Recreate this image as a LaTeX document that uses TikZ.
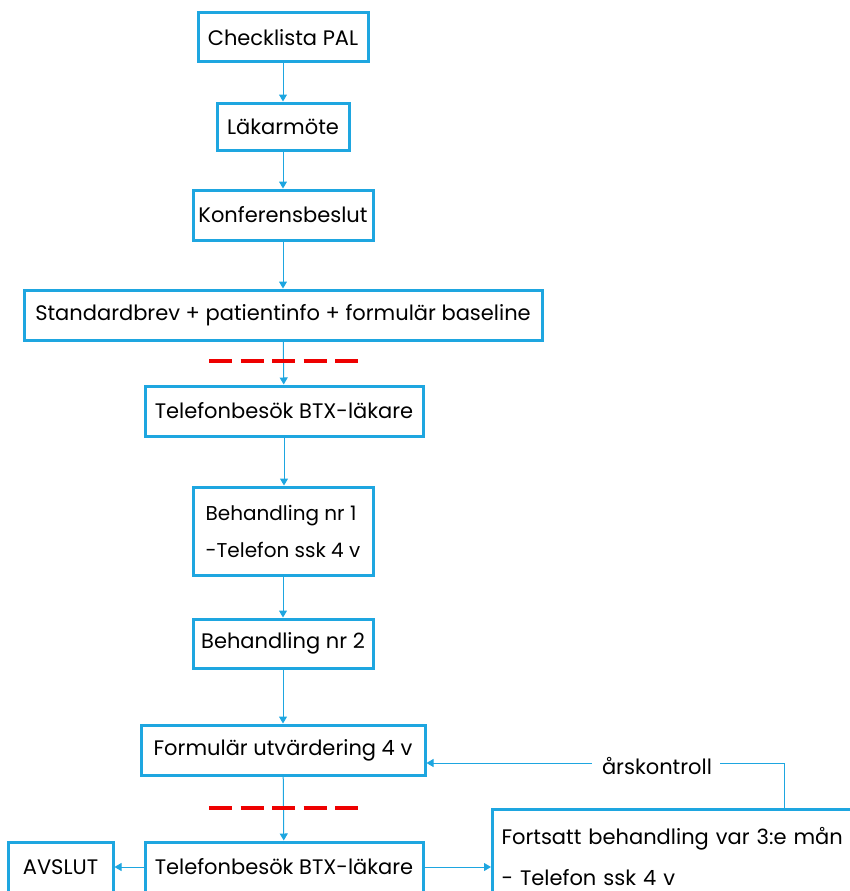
\documentclass[tikz,border=0pt]{standalone}
\usepackage{fontspec}
\setmainfont{Poppins}
\usetikzlibrary{arrows.meta}
\definecolor{bx}{RGB}{30,166,224}
\definecolor{rd}{RGB}{238,0,0}
\tikzset{
  box/.style={draw=bx, line width=3pt, fill=white, inner sep=0pt, font=\fontsize{21}{25}\selectfont, text=black},
  conn/.style={draw=bx, line width=1pt, -{Triangle[length=7pt,width=8pt]}},
  plain/.style={draw=bx, line width=1pt},
  reddash/.style={draw=rd, line width=4pt, dash pattern=on 23pt off 8.5pt},
}
\begin{document}
\begin{tikzpicture}[x=1pt,y=-1pt]
\useasboundingbox (0,0) rectangle (850,891);
\clip (0,0) rectangle (850,891);
\node[box, minimum width=170pt, minimum height=49pt] (a) at (283,37.5) {Checklista PAL};
\node[box, minimum width=132pt, minimum height=47pt] (b) at (283,126.5) {Läkarmöte};
\node[box, minimum width=180pt, minimum height=50pt] (c) at (283,215) {Konferensbeslut};
\node[box, minimum width=518pt, minimum height=50pt] (d) at (283,315) {Standardbrev + patientinfo + formulär baseline};
\node[box, minimum width=278pt, minimum height=50pt] (e) at (284,411) {Telefonbesök BTX-läkare};
\node[box, minimum width=180pt, minimum height=88pt, align=left, font=\fontsize{20}{24}\selectfont] (f) at (283,531) {Behandling nr 1\\[13pt]-Telefon ssk 4 v};
\node[box, minimum width=180pt, minimum height=49pt] (g) at (283,643.5) {Behandling nr 2};
\node[box, minimum width=284pt, minimum height=50pt] (h) at (283,750) {Formulär utvärdering 4 v};
\node[box, minimum width=278pt, minimum height=50pt] (i) at (284,867) {Telefonbesök BTX-läkare};
\node[box, minimum width=105pt, minimum height=50pt] (j) at (60.5,867) {AVSLUT};
\node[box, anchor=north west, align=left, text width=380pt, inner xsep=9pt, inner ysep=18pt] (k) at (491,808) {Fortsatt behandling var 3:e mån\\[16pt]- Telefon ssk 4 v};
\node[font=\fontsize{21}{25}\selectfont, inner sep=0pt] (l) at (657,766) {årskontroll};
\coordinate (lc) at (784,763);
\draw[conn] (a) -- (b);
\draw[conn] (b) -- (c);
\draw[conn] (c) -- (d);
\draw[conn] (d) -- (e);
\draw[conn] (e.south) -- (f.north -| e.south);
\draw[conn] (f) -- (g);
\draw[conn] (g) -- (h);
\draw[conn] (h) -- (i);
\draw[conn] (i) -- (j);
\draw[conn] (i.east) -- (k.west |- i.east);
\draw[plain] (k.north -| lc) -- (lc) -- ([xshift=8pt]l.east |- lc);
\draw[conn] ([xshift=-10pt]l.west |- lc) -- (h.east |- lc);
\draw[reddash] (209,361) -- (358,361);
\draw[reddash] (209,808) -- (358,808);
\end{tikzpicture}
\end{document}
